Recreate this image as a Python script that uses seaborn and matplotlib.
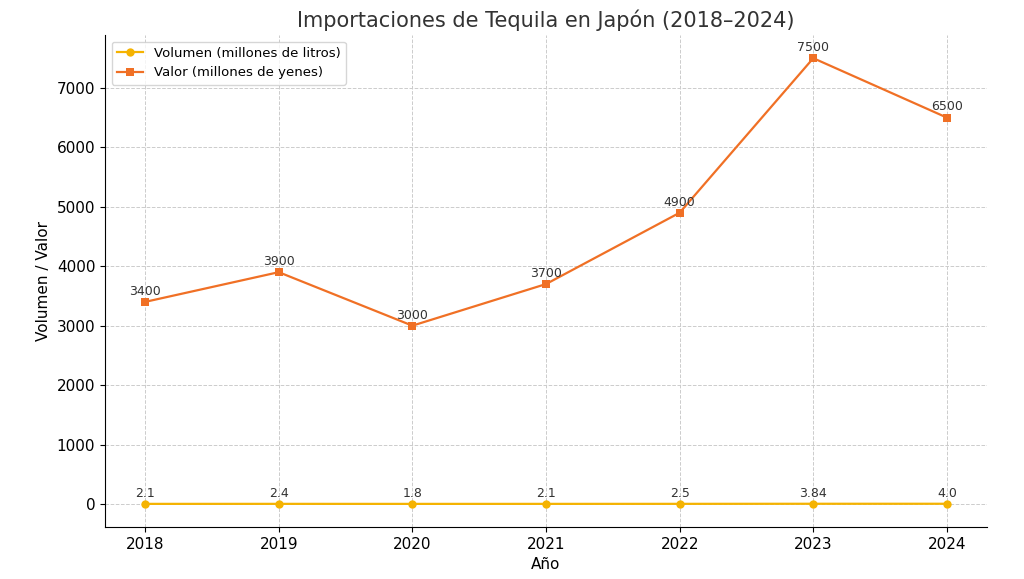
import matplotlib
matplotlib.use("Agg")
import matplotlib.pyplot as plt
import seaborn as sns
import pandas as pd

years = [2018, 2019, 2020, 2021, 2022, 2023, 2024]
volumen = [2.1, 2.4, 1.8, 2.1, 2.5, 3.84, 4.0]
valor = [3400, 3900, 3000, 3700, 4900, 7500, 6500]
vol_labels = ["2.1", "2.4", "1.8", "2.1", "2.5", "3.84", "4.0"]
val_labels = ["3400", "3900", "3000", "3700", "4900", "7500", "6500"]

df = pd.DataFrame({"year": years, "vol": volumen, "val": valor})

fig = plt.figure(figsize=(10.24, 5.79), dpi=100)
ax = fig.add_axes([105/1024, 1-527/579, 882/1024, 492/579])
sns.lineplot(data=df, x="year", y="vol", ax=ax, color="#f5b301", marker="o",
             markersize=6, markeredgewidth=0, lw=1.6, label="Volumen (millones de litros)")
sns.lineplot(data=df, x="year", y="val", ax=ax, color="#f07025", marker="s",
             markersize=6, markeredgewidth=0, lw=1.6, label="Valor (millones de yenes)")
for x, y, t in zip(years, volumen, vol_labels):
    ax.annotate(t, (x, y), xytext=(0, 3), textcoords="offset points", ha="center", va="bottom", fontsize=9, color="#333333")
for x, y, t in zip(years, valor, val_labels):
    ax.annotate(t, (x, y), xytext=(0, 3), textcoords="offset points", ha="center", va="bottom", fontsize=9, color="#333333")
ax.set_xlim(2017.7, 2024.3)
ax.set_ylim(-387, 7890)
ax.set_xticks(years)
ax.set_yticks(range(0, 8000, 1000))
ax.tick_params(labelsize=11)
ax.grid(True, ls="--", color="#cccccc", lw=0.7)
for s in ["top", "right"]:
    ax.spines[s].set_visible(False)
ax.set_xlabel("Año", fontsize=11)
ax.set_ylabel("Volumen / Valor", fontsize=11)
ax.set_title("Importaciones de Tequila en Japón (2018–2024)", fontsize=15, color="#333333")
ax.legend(loc="upper left", fontsize=9.5, frameon=True)
fig.savefig("out.png", dpi=100)
